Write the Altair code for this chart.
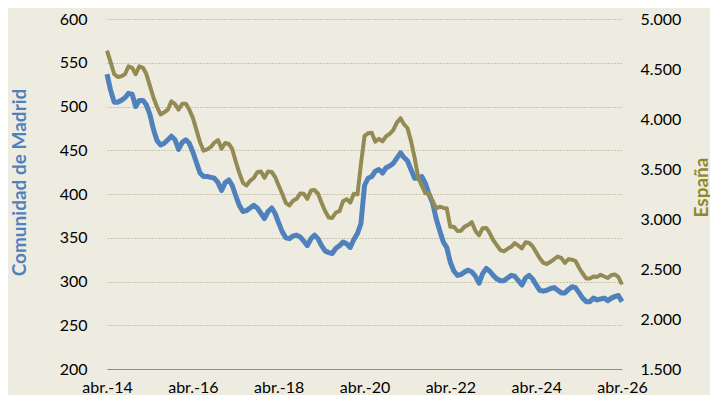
import altair as alt
import pandas as pd

# Monthly values, abr.-2014 .. abr.-2026 (thousands)
madrid = [
    537, 519, 505, 505, 507, 510, 515, 514, 500,                    # 2014 abr-dic
    507, 507, 502, 491, 474, 461, 456, 458, 462, 466, 462, 451,     # 2015
    459, 462, 458, 448, 436, 424, 420, 420, 419, 418, 413, 404,     # 2016
    413, 416, 410, 398, 387, 380, 381, 384, 387, 384, 378, 372,     # 2017
    380, 384, 378, 367, 357, 350, 349, 352, 353, 351, 346, 341,     # 2018
    349, 353, 349, 341, 335, 333, 332, 338, 341, 345, 343, 339,     # 2019
    348, 355, 366, 410, 418, 420, 426, 428, 424, 430, 432, 435,     # 2020
    441, 447, 442, 438, 428, 418, 418, 420, 412, 400, 390, 372,     # 2021
    358, 345, 339, 322, 312, 307, 308, 311, 313, 311, 306, 298,     # 2022
    309, 315, 312, 307, 303, 301, 301, 304, 307, 306, 301, 296,     # 2023
    304, 307, 303, 296, 290, 289, 290, 292, 293, 290, 287, 287,     # 2024
    291, 294, 293, 287, 281, 277, 277, 281, 279, 280, 281, 278,     # 2025
    281, 283, 284, 277,                                             # 2026 ene-abr
]
espana = [
    4684, 4572, 4450, 4420, 4428, 4448, 4527, 4512, 4448,
    4526, 4512, 4452, 4333, 4215, 4120, 4046, 4067, 4094, 4176, 4149, 4094,
    4152, 4153, 4094, 4011, 3891, 3767, 3683, 3697, 3721, 3764, 3789, 3702,
    3760, 3750, 3702, 3573, 3461, 3362, 3335, 3382, 3410, 3467, 3475, 3412,
    3476, 3470, 3422, 3335, 3252, 3162, 3135, 3182, 3202, 3254, 3252, 3202,
    3285, 3289, 3255, 3163, 3079, 3015, 3011, 3065, 3079, 3177, 3198, 3163,
    3253, 3246, 3549, 3831, 3857, 3863, 3773, 3802, 3776, 3826, 3851, 3888,
    3964, 4008, 3949, 3910, 3781, 3614, 3416, 3333, 3257, 3257, 3182, 3106,
    3123, 3111, 3108, 2922, 2922, 2880, 2883, 2924, 2941, 2968, 2881, 2837,
    2908, 2911, 2862, 2789, 2739, 2688, 2677, 2702, 2722, 2759, 2734, 2707,
    2767, 2760, 2727, 2666, 2607, 2561, 2550, 2572, 2598, 2625, 2609, 2561,
    2599, 2593, 2580, 2512, 2455, 2405, 2404, 2426, 2421, 2443, 2425, 2410,
    2440, 2445, 2420, 2345,
]
dates = pd.date_range("2014-04-01", periods=len(madrid), freq="MS").strftime("%Y-%m-%d").tolist()
tick_years = [2014, 2016, 2018, 2020, 2022, 2024, 2026]
left_ticks = [200, 250, 300, 350, 400, 450, 500, 550, 600]
right_ticks = [1500, 2000, 2500, 3000, 3500, 4000, 4500, 5000]

df = pd.DataFrame({"fecha": dates, "madrid": madrid, "espana": espana})

FONT = "Lato"
BLUE = "#4F81BD"
OLIVE = "#948A54"

x_enc = alt.X(
    "fecha:T",
    scale=alt.Scale(
        type="utc",
        domain=[alt.DateTime(year=2014, month=4, date=1, utc=True),
                alt.DateTime(year=2026, month=4, date=1, utc=True)],
    ),
    axis=alt.Axis(
        values=[alt.DateTime(year=y, month=4, date=1, utc=True) for y in tick_years],
        labelExpr="'abr.-' + utcFormat(datum.value, '%y')",
        labelFont=FONT, labelFontSize=16, labelColor="#000000",
        labelPadding=10, labelFlush=False, labelOverlap=False,
        ticks=False, grid=False,
        domain=True, domainColor="#8C8C8C", domainWidth=1.2,
        title=None,
    ),
)

left = alt.Chart(df).mark_line(color=BLUE, strokeWidth=5, strokeJoin="round", strokeCap="butt").encode(
    x=x_enc,
    y=alt.Y(
        "madrid:Q",
        scale=alt.Scale(domain=[200, 600], nice=False, zero=False),
        axis=alt.Axis(
            values=left_ticks, orient="left",
            grid=True, gridDash=[1, 2], gridColor="#A8A27A", gridWidth=1,
            ticks=False, domain=False,
            labelFont=FONT, labelFontSize=16, labelColor="#000000", labelPadding=20,
            title="Comunidad de Madrid", titleFont=FONT, titleFontSize=19,
            titleFontWeight="bold", titleColor=BLUE,
            titleAngle=270, titleX=-88, titleY=163,
            titleBaseline="middle", titleAlign="center",
        ),
    ),
)

right = alt.Chart(df).mark_line(color=OLIVE, strokeWidth=4, strokeJoin="round", strokeCap="butt").encode(
    x=x_enc,
    y=alt.Y(
        "espana:Q",
        scale=alt.Scale(domain=[1500, 5000], nice=False, zero=False),
        axis=alt.Axis(
            values=right_ticks, orient="right",
            labelExpr="replace(format(datum.value, ','), ',', '.')",
            grid=False, ticks=False, domain=False,
            labelFont=FONT, labelFontSize=16, labelColor="#000000", labelPadding=18,
            title="España", titleFont=FONT, titleFontSize=19,
            titleFontWeight="bold", titleColor="#8C8A2E",
            titleAngle=270, titleX=79, titleY=168,
            titleBaseline="middle", titleAlign="center",
        ),
    ),
)

chart = (
    alt.layer(left, right)
    .resolve_scale(y="independent")
    .properties(
        width=515, height=350,
        autosize=alt.AutoSizeParams(type="none"),
        padding={"left": 99, "top": 11, "right": 88, "bottom": 26},
        background="#EEECE1",
    )
    .configure_view(stroke=None)
)

chart.save("out.html", embed_options={"renderer": "svg", "actions": False})
